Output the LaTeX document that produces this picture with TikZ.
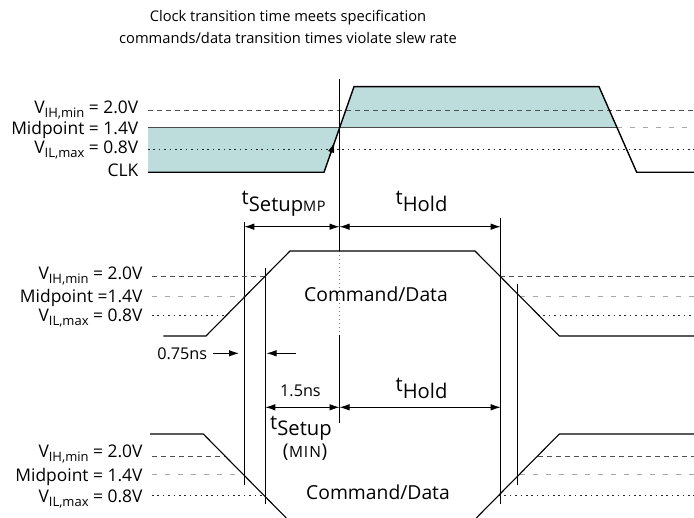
\documentclass[tikz,border=0pt]{standalone}
\usepackage{fontspec}
\setmainfont{Open Sans}
\usetikzlibrary{arrows.meta}
\definecolor{fillc}{HTML}{BDDCDC}
\definecolor{dashc}{HTML}{505050}
\definecolor{midc}{HTML}{A8A8A8}
\definecolor{midsolid}{HTML}{4A4A4A}
\newcommand{\Vlab}[1]{V\raisebox{-4pt}{\fontsize{13}{13}\selectfont #1}}
\newcommand{\tlab}[1]{t\raisebox{-6.7pt}{#1}}
\newcommand{\smallcap}[1]{{\fontsize{14.5}{15}\selectfont #1}}
\newcommand{\smallcapB}[1]{{\fontsize{15.5}{16}\selectfont #1}}
\begin{document}
\begin{tikzpicture}[x=1pt,y=-1pt,
  titlefont/.style={font=\fontsize{14.7}{18}\selectfont},
  labfont/.style={font=\fontsize{17.4}{20}\selectfont},
  bigfont/.style={font=\fontsize{19.3}{22}\selectfont},
  tfont/.style={font=\fontsize{20.2}{22}\selectfont},
  nsfont/.style={font=\fontsize{16.2}{18}\selectfont},
  clkwave/.style={line width=1.4pt,line join=miter},
  cmdwave/.style={line width=1.1pt,line join=miter},
  lvlhi/.style={dashc,dash pattern=on 5pt off 4pt,line width=0.9pt},
  lvlmid/.style={midc,dash pattern=on 5pt off 8pt,line width=0.9pt},
  lvllo/.style={black!85,dash pattern=on 1.6pt off 3.8pt,line width=0.9pt},
  vline/.style={line width=0.9pt},
  dimarrow/.style={line width=0.9pt,{Latex[length=10pt,width=6.5pt]}-{Latex[length=10pt,width=6.5pt]}},
  onearrow/.style={line width=0.9pt,-{Latex[length=10pt,width=6.5pt]}},
  lab/.style={labfont,anchor=base east,inner sep=0pt},
  tl/.style={tfont,anchor=base west,inner sep=0pt}]
\useasboundingbox (0,0) rectangle (694,518);

% title
\node[titlefont,anchor=base,inner sep=0pt] (title1) at (288,21.7) {Clock transition time meets specification};
\node[titlefont,anchor=base,inner sep=0pt] (title2) at (288,43.3) {commands/data transition times violate slew rate};

% ---------------- clock ----------------
\fill[fillc] (148,127.7) -- (148,172.3) -- (324,172.3) -- (339.6,127.7) -- cycle;
\fill[fillc] (339.6,127.7) -- (354,86.7) -- (599,86.7) -- (617,127.7) -- cycle;
\draw[lvlhi] (148,110) -- (694,110);
\draw[lvllo] (148,149) -- (694,149);
\draw[midsolid,line width=1.5pt] (148,127.7) -- (617,127.7);
\draw[lvlmid] (617,127.7) -- (694,127.7);
\draw[clkwave] (148,172.3) -- (324,172.3) -- (354,86.7) -- (599,86.7) -- (636.7,172.3) -- (694,172.3);
\coordinate (clkA) at (329.4,157);
\coordinate (clkB) at (334.4,142.6);
\draw[onearrow] (clkA) -- (clkB);

\node[lab] (c1) at (138.5,113.3) {\Vlab{IH,min} = 2.0V};
\node[lab] (c2) at (138.5,134.3) {Midpoint = 1.4V};
\node[lab] (c3) at (138.5,153.3) {\Vlab{IL,max} = 0.8V};
\node[lab] (c4) at (138.5,177) {CLK};

% ---------------- verticals ----------------
\coordinate (mTop) at (339.5,79);
\coordinate (mA) at (339.5,251);
\coordinate (mB) at (339.5,335);
\coordinate (mC) at (339.5,423);
\draw[vline] (mTop) -- (mA);
\draw[gray,line width=0.6pt,dash pattern=on 1.5pt off 2.5pt] (mA) -- (mB);
\draw[vline] (mB) -- (mC);
\draw[vline] (244.3,221.7) -- (244.3,485);
\draw[vline] (265.3,268) -- (265.3,504);
\draw[vline] (500.7,217.7) -- (500.7,504);
\draw[vline] (517.7,284) -- (517.7,485);

% dimension arrows (upper)
\coordinate (sU) at (244.3,226.7);
\coordinate (mU) at (339.5,226.7);
\coordinate (hU) at (500.7,226.7);
\draw[dimarrow] (sU) -- (mU);
\draw[dimarrow] (mU) -- (hU);
\node[tl] (tsmp) at (241.5,205) {\tlab{Setup\smallcap{M\kern0.6pt P}}};
\node[tl] (th1) at (395.5,205) {\tlab{Hold}};

% ---------------- command/data 1 ----------------
\draw[lvlhi] (152,276) -- (265.3,276);
\draw[lvlmid] (152,296) -- (245.5,296);
\draw[lvllo] (152,315) -- (226.8,315);
\draw[lvlhi] (499.7,276) -- (694,276);
\draw[lvlmid] (519.5,296) -- (694,296);
\draw[lvllo] (538,315) -- (694,315);
\draw[cmdwave] (163.3,336) -- (206,336) -- (290,251) -- (475,251) -- (559.3,336) -- (694,336);
\node[lab] (d1) at (142.7,280) {\Vlab{IH,min} = 2.0V};
\node[lab] (d2) at (142.7,302.7) {Midpoint =1.4V};
\node[lab] (d3) at (142.7,321.7) {\Vlab{IL,max} = 0.8V};
\node[bigfont,anchor=base west,inner sep=0pt] (cd1) at (304,301.7) {Command/Data};

% 0.75ns
\node[nsfont,anchor=base east,inner sep=0pt] (n075) at (207.3,360) {0.75ns};
\coordinate (a075s) at (213,353.3);
\coordinate (a075e) at (239,353.3);
\coordinate (b075s) at (296,353.3);
\coordinate (b075e) at (266.5,353.3);
\draw[onearrow] (a075s) -- (a075e);
\draw[onearrow] (b075s) -- (b075e);

% 1.5ns and lower dimension arrows
\node[nsfont,anchor=base west,inner sep=0pt] (n15) at (280,396.7) {1.5ns};
\coordinate (sL) at (265.3,407.3);
\coordinate (mL) at (339.5,407.3);
\coordinate (hL) at (500.7,407.3);
\draw[dimarrow] (sL) -- (mL);
\draw[dimarrow] (mL) -- (hL);
\node[tl] (tsmin) at (270,429.3) {\tlab{Setup}};
\node[font=\fontsize{19}{20}\selectfont,anchor=base,inner sep=0pt] (min) at (305,457.5) {(\kern0.5pt\smallcapB{M\kern1pt I\kern1pt N}\kern0.5pt)};
\node[tl] (th2) at (395.5,391.7) {\tlab{Hold}};

% ---------------- command/data 2 ----------------
\draw[lvlhi] (152,456) -- (225,456);
\draw[lvlmid] (152,474.3) -- (243,474.3);
\draw[lvllo] (152,495) -- (263.6,495);
\draw[lvlhi] (537.6,456) -- (694,456);
\draw[lvlmid] (519.8,474.3) -- (694,474.3);
\draw[lvllo] (499,495) -- (694,495);
\draw[cmdwave] (150,434) -- (203.3,434) -- (286.3,518);
\draw[cmdwave] (476.3,518) -- (559.3,434) -- (694,434);
\node[lab] (e1) at (142.7,457.5) {\Vlab{IH,min} = 2.0V};
\node[lab] (e2) at (142.7,481.5) {Midpoint = 1.4V};
\node[lab] (e3) at (142.7,502.5) {\Vlab{IL,max} = 0.8V};
\node[bigfont,anchor=base west,inner sep=0pt] (cd2) at (306,500) {Command/Data};
\end{tikzpicture}
\end{document}
